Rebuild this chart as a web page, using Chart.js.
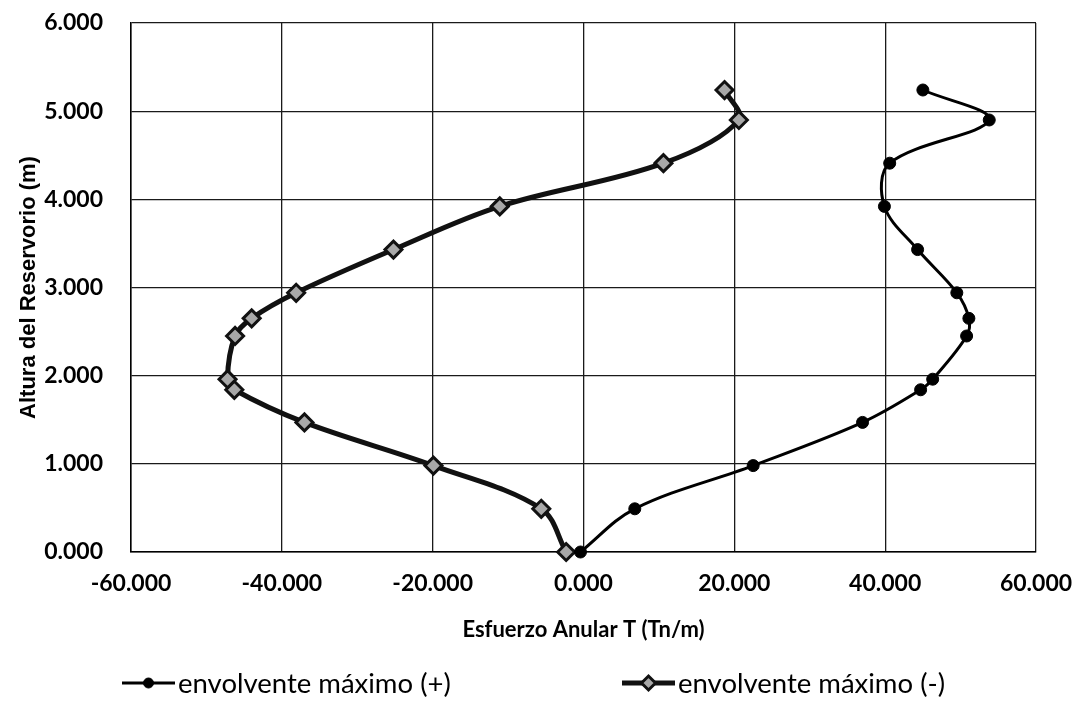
<!DOCTYPE html>
<html lang="es">
<head>
<meta charset="utf-8">
<title>Esfuerzo anular T</title>
<script src="https://cdn.jsdelivr.net/npm/chart.js@4.4.1/dist/chart.umd.min.js"></script>
<style>
    html, body { margin: 0; padding: 0; background: #fff; }
    #wrap { position: relative; width: 1086px; height: 701px; }
    .leyenda {
        position: absolute;
        top: 668px;
        display: flex;
        align-items: center;
        font-family: Lato, sans-serif;
        font-size: 27.5px;
        color: #000;
        white-space: nowrap;
        line-height: 30px;
    }
    .leyenda canvas { margin-right: 3px; }
</style>
</head>
<body>
<div id="wrap">
    <canvas id="grafico" width="1086" height="701"></canvas>
    <div class="leyenda" id="ley-0" style="left:122px"><canvas width="53" height="20"></canvas><span></span></div>
    <div class="leyenda" id="ley-1" style="left:622px"><canvas width="53" height="20"></canvas><span></span></div>
</div>
<script>
// Altura del reservorio (m), común a las dos envolventes
const alturas = [0.00, 0.49, 0.98, 1.47, 1.84, 1.96, 2.45, 2.65, 2.94, 3.43, 3.92, 4.41, 4.90, 5.24];

// Esfuerzo anular T (Tn/m) en cada altura
const envolventePos = [-0.4, 6.8, 22.5, 37.0, 44.7, 46.3, 50.8, 51.1, 49.5, 44.3, 39.9, 40.6, 53.8, 45.0];
const envolventeNeg = [-2.3, -5.6, -19.9, -37.0, -46.3, -47.2, -46.2, -44.0, -38.1, -25.2, -11.1, 10.6, 20.6, 18.7];

const nombres = ['envolvente máximo (+)', 'envolvente máximo (-)'];

const ticksX = [-60, -40, -20, 0, 20, 40, 60];
const ticksY = [0, 1, 2, 3, 4, 5, 6];

const toPoints = (xs) => xs.map((x, i) => ({ x: x, y: alturas[i] }));
const fmt = (v) => Number(v).toFixed(3);

const tickFont = { family: 'Lato', size: 23, weight: 'bold' };

// las marcas de división no se ven; solo separan las etiquetas del eje
const gridOpts = (sep) => ({
    color: '#1a1a1a',
    lineWidth: 1.3,
    drawTicks: true,
    tickLength: sep,
    tickColor: 'rgba(0,0,0,0)'
});

const ctx = document.getElementById('grafico').getContext('2d');

const chart = new Chart(ctx, {
    type: 'scatter',
    data: {
        datasets: [
            {
                label: nombres[0],
                data: toPoints(envolventePos),
                showLine: true,
                tension: 0.35,
                borderColor: '#000',
                borderWidth: 3,
                pointStyle: 'circle',
                pointRadius: 6,
                pointBackgroundColor: '#000',
                pointBorderColor: '#000',
                pointBorderWidth: 1,
                clip: false
            },
            {
                label: nombres[1],
                data: toPoints(envolventeNeg),
                showLine: true,
                tension: 0.35,
                borderColor: '#111',
                borderWidth: 5,
                pointStyle: 'rectRot',
                pointRadius: 8.5,
                pointBackgroundColor: '#a8a8a8',
                pointBorderColor: '#111',
                pointBorderWidth: 3,
                clip: false
            }
        ]
    },
    options: {
        responsive: false,
        animation: false,
        layout: {
            padding: { top: 23, right: 50, bottom: 49, left: 0 }
        },
        plugins: {
            legend: { display: false },
            tooltip: { enabled: false }
        },
        scales: {
            x: {
                type: 'linear',
                min: ticksX[0],
                max: ticksX[ticksX.length - 1],
                afterBuildTicks: (scale) => {
                    scale.ticks = ticksX.map(v => ({ value: v }));
                },
                afterFit: (scale) => {
                    scale.height = 100;
                },
                grid: gridOpts(18),
                border: { color: '#000', width: 1.5 },
                ticks: {
                    color: '#000',
                    font: tickFont,
                    padding: 0,
                    maxRotation: 0,
                    callback: fmt
                },
                title: {
                    display: true,
                    text: 'Esfuerzo Anular T (Tn/m)',
                    color: '#000',
                    font: { family: 'Lato', size: 22, weight: 'bold' },
                    padding: { top: 0, bottom: 9 }
                }
            },
            y: {
                type: 'linear',
                min: ticksY[0],
                max: ticksY[ticksY.length - 1],
                afterBuildTicks: (scale) => {
                    scale.ticks = ticksY.map(v => ({ value: v }));
                },
                afterFit: (scale) => {
                    scale.width = 131;
                },
                grid: gridOpts(28),
                border: { color: '#000', width: 1.5 },
                ticks: {
                    color: '#000',
                    font: tickFont,
                    padding: 0,
                    callback: fmt
                },
                title: {
                    display: true,
                    text: 'Altura del Reservorio (m)',
                    color: '#000',
                    font: { family: 'Liberation Sans', size: 22, weight: 'bold' },
                    padding: { top: 16, bottom: 0 }
                }
            }
        }
    }
});

// Leyenda en HTML: línea con el marcador de cada serie
function dibujarIcono(canvas, ds) {
    const g = canvas.getContext('2d');
    const w = canvas.width, h = canvas.height, cx = w / 2, cy = h / 2;
    g.strokeStyle = ds.borderColor;
    g.lineWidth = ds.borderWidth;
    g.beginPath();
    g.moveTo(0, cy);
    g.lineTo(w, cy);
    g.stroke();

    g.fillStyle = ds.pointBackgroundColor;
    g.strokeStyle = ds.pointBorderColor;
    g.lineWidth = ds.pointBorderWidth;
    g.beginPath();
    if (ds.pointStyle === 'circle') {
        g.arc(cx, cy, 5, 0, Math.PI * 2);
    } else {
        g.moveTo(cx - 7, cy);
        g.lineTo(cx, cy - 7);
        g.lineTo(cx + 7, cy);
        g.lineTo(cx, cy + 7);
        g.closePath();
    }
    g.fill();
    g.stroke();
}

chart.data.datasets.forEach((ds, i) => {
    const item = document.getElementById('ley-' + i);
    item.querySelector('span').textContent = ds.label;
    dibujarIcono(item.querySelector('canvas'), ds);
});
</script>
</body>
</html>
